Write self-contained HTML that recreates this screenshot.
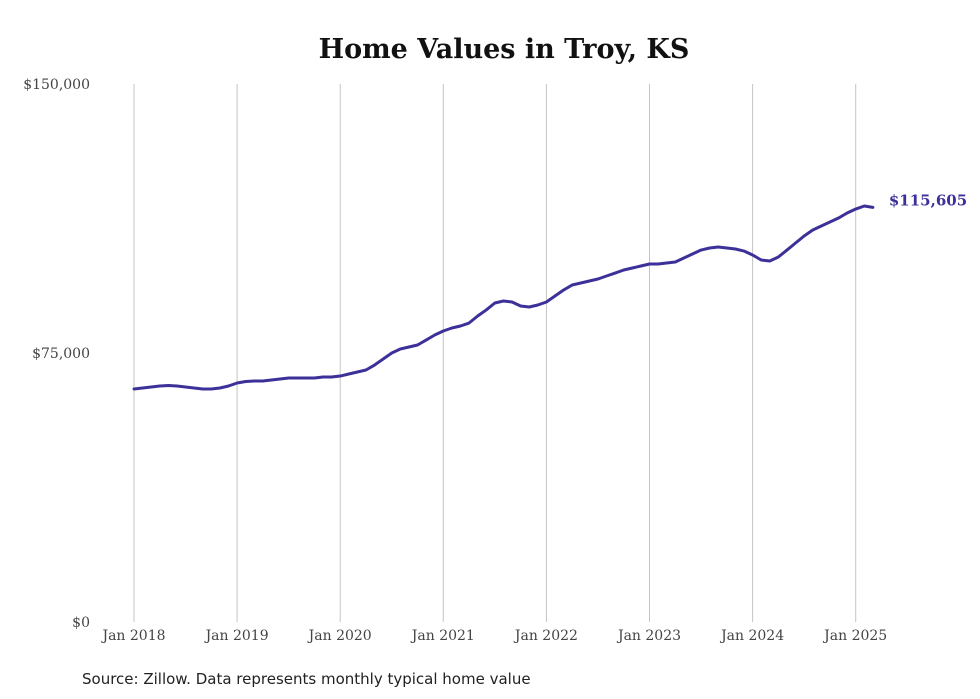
<!DOCTYPE html>
<html><head><meta charset="utf-8"><style>
html,body{margin:0;padding:0;background:#fff;}
svg{display:block;font-family:"DejaVu Serif","Liberation Serif",serif;}
</style></head><body>
<svg id="chart" width="980" height="699" viewBox="0 0 980 699">
<text x="504" y="58" text-anchor="middle" font-size="27" font-weight="bold" fill="#111">Home Values in Troy, KS</text>
<g id="grid"></g>
<g id="yaxis"></g>
<g id="xaxis"></g>
<path id="line" fill="none" stroke="#3b3199" stroke-width="3" stroke-linejoin="round" stroke-linecap="round"></path>
<text id="endlabel" font-size="15" font-weight="bold" fill="#3b3199"></text>
<text x="82" y="684" font-family="DejaVu Sans, Liberation Sans, sans-serif" font-size="15" fill="#222">Source: Zillow. Data represents monthly typical home value</text>
</svg>
<script>
const startYear = 2018;
const yearLabels = ["Jan 2018","Jan 2019","Jan 2020","Jan 2021","Jan 2022","Jan 2023","Jan 2024","Jan 2025"];
const yTicks = [0, 75000, 150000];
const yTickLabels = ["$0","$75,000","$150,000"];
const values = [
64960,65240,65520,65800,65940,65800,65520,65240,64960,64960,65240,65800,
66630,67050,67190,67190,67470,67750,68030,68030,68030,68030,68310,68310,
68580,69140,69700,70260,71650,73320,74990,76110,76670,77230,78620,80020,
81130,81970,82530,83360,85310,87000,88940,89500,89220,88100,87820,88380,
89220,90890,92560,93960,94520,95070,95630,96470,97300,98140,98700,99250,
99810,99810,100090,100370,101480,102600,103710,104270,104550,104270,103990,103430,
102320,100930,100650,101760,103710,105670,107620,109290,110400,111520,112630,114030,
115140,115980,115605];
const lastLabel = "$115,605";

const NS = "http://www.w3.org/2000/svg";
const x0 = 134, perYear = 103.1, yBottom = 622, yTop = 84, yMax = 150000;
const xScale = m => x0 + m * perYear / 12;
const yScale = v => yBottom - v / yMax * (yBottom - yTop);

const grid = document.getElementById('grid');
const xaxis = document.getElementById('xaxis');
yearLabels.forEach((lab, i) => {
  const x = xScale(i * 12);
  const l = document.createElementNS(NS, 'line');
  
  
  l.setAttribute('x1', x); l.setAttribute('x2', x);
  l.setAttribute('y1', yTop); l.setAttribute('y2', yBottom);
  l.setAttribute('stroke', '#c4c4c4'); l.setAttribute('stroke-width', '1');
  grid.appendChild(l);
  const t = document.createElementNS(NS, 'text');
  
  
  t.setAttribute('x', x); t.setAttribute('y', 640);
  t.setAttribute('text-anchor', 'middle'); t.setAttribute('font-size', '14');
  t.setAttribute('fill', '#444');
  t.textContent = lab;
  xaxis.appendChild(t);
});
const yaxis = document.getElementById('yaxis');
yTicks.forEach((v, i) => {
  const t = document.createElementNS(NS, 'text');
  
  
  t.setAttribute('x', 90); t.setAttribute('y', yScale(v) + 5);
  t.setAttribute('text-anchor', 'end'); t.setAttribute('font-size', '14');
  t.setAttribute('fill', '#444');
  t.textContent = yTickLabels[i];
  yaxis.appendChild(t);
});
const d = values.map((v, i) => (i ? 'L' : 'M') + xScale(i).toFixed(2) + ' ' + yScale(v).toFixed(2)).join(' ');
document.getElementById('line').setAttribute('d', d);
const el = document.getElementById('endlabel');
const li = values.length - 1;
el.setAttribute('x', xScale(li) + 16);
el.setAttribute('y', yScale(values[li]) - 2);
el.textContent = lastLabel;
</script>
</body></html>
